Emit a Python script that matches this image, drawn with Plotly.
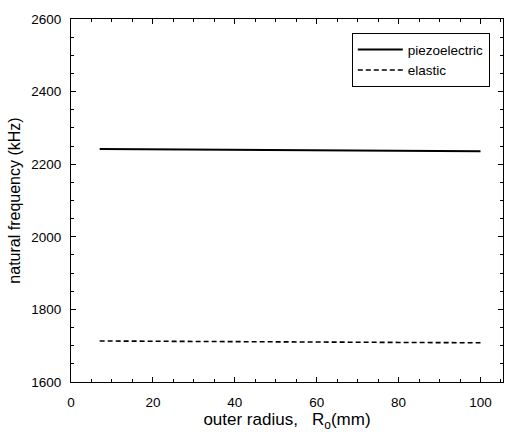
import plotly.graph_objects as go

radius = [7, 20, 40, 60, 80, 100]
piezo = [2242, 2241, 2239, 2238, 2237, 2236]
elastic = [1713, 1712, 1711, 1710, 1709, 1708]

fig = go.Figure()
fig.add_trace(go.Scatter(x=radius, y=piezo, mode="lines", name="piezoelectric",
                         line=dict(color="black", width=2)))
fig.add_trace(go.Scatter(x=radius, y=elastic, mode="lines", name="elastic",
                         line=dict(color="black", width=1.6, dash="5px,3px")))

axis_common = dict(showgrid=False, zeroline=False, showline=True, linecolor="black",
                   linewidth=1, mirror="allticks", ticks="inside", ticklen=5,
                   tickcolor="black", tickfont=dict(size=13.5, color="black"))

fig.update_xaxes(range=[0, 105.5], tickvals=[0, 20, 40, 60, 80, 100],
                 minor=dict(dtick=5, ticks="inside", ticklen=3, tickcolor="black"),
                 title=dict(text="outer radius,   R<sub>o</sub>(mm)", font=dict(size=17, color="black"), standoff=3),
                 ticklabelstandoff=8,
                 **axis_common)
fig.update_yaxes(range=[1600, 2600], tickvals=[1600, 1800, 2000, 2200, 2400, 2600],
                 minor=dict(dtick=50, ticks="inside", ticklen=3, tickcolor="black"),
                 title=dict(text="natural frequency (kHz)", font=dict(size=16, color="black"), standoff=6),
                 ticklabelstandoff=6,
                 **axis_common)

fig.update_layout(
    width=505, height=432,
    margin=dict(l=71, r=2, t=19, b=50),
    paper_bgcolor="white", plot_bgcolor="white",
    font=dict(family="Liberation Sans, Arial, sans-serif", color="black"),
    legend=dict(x=0.65, y=0.961, xanchor="left", yanchor="top",
                bordercolor="black", borderwidth=1, bgcolor="white",
                font=dict(size=13.5), tracegroupgap=0, itemwidth=45),
    showlegend=True,
)

fig.write_html("out.html")
